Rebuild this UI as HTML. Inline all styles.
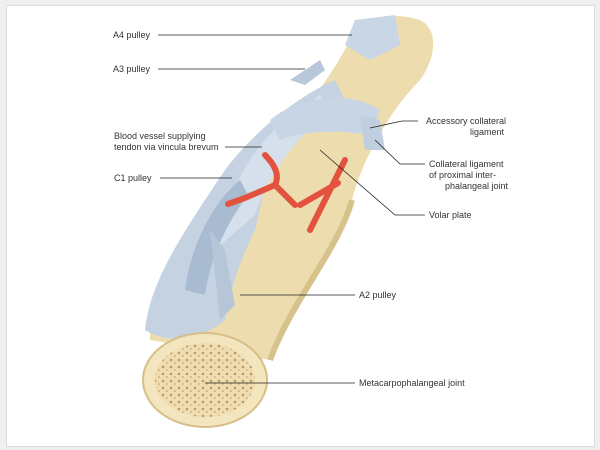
<!DOCTYPE html>
<html><head><meta charset="utf-8"><style>
html,body{margin:0;padding:0;background:#efefef;}
.f{position:absolute;left:6px;top:5px;width:587px;height:440px;background:#fff;border:1px solid #dcdcdc;}
svg{position:absolute;left:0;top:0}
text{font-family:"Liberation Sans",sans-serif;font-size:9px;fill:#333}
</style></head><body>
<div class="f"></div>
<svg width="600" height="450" viewBox="0 0 600 450">
<defs>
<pattern id="dots" width="8" height="7" patternUnits="userSpaceOnUse">
<rect width="8" height="7" fill="#efdcb0"/><circle cx="3" cy="3" r="1.3" fill="#b89a62"/><circle cx="7" cy="6" r="0.9" fill="#c7aa72"/></pattern>
</defs>
<path d="M150,330 C170,280 210,230 250,180 C290,130 330,80 350,40 C360,20 390,10 420,20 C440,30 435,60 420,80 C390,110 362,160 352,200 C338,250 292,300 270,360 L150,340 Z" fill="#ecdcae"/>
<path d="M352,200 C338,250 292,300 270,360" stroke="#d8c28c" stroke-width="6" fill="none"/>
<path d="M145,330 C150,280 185,230 225,170 C255,130 300,95 335,80 L345,100 C310,115 285,140 270,165 L255,230 C240,260 230,290 225,320 C200,340 170,345 145,330 Z" fill="#c5d2e2"/>
<path d="M215,250 C225,200 250,140 300,110 L320,95 L330,110 C300,135 270,170 255,215 Z" fill="#d6e0ec"/>
<path d="M270,120 C300,95 350,90 380,110 L370,135 C340,130 305,130 280,140 Z" fill="#c8d5e4"/>
<path d="M345,45 L355,20 L395,15 L400,45 L370,60 Z" fill="#c9d6e5"/>
<path d="M290,80 L320,60 L325,70 L305,85 Z" fill="#b8c8da"/>
<path d="M185,290 C190,250 210,205 240,180 L248,195 C225,225 210,260 205,295 Z" fill="#a9bbd0"/>
<path d="M210,230 L225,250 L235,305 L220,320 Z" fill="#b6c6d9"/>
<path d="M360,115 L380,120 L385,150 L365,150 Z" fill="#c0cfe0"/>
<path d="M265,155 C275,165 280,175 275,185 L245,198 L228,204 M275,185 L295,205" stroke="#e2523e" stroke-width="6" fill="none" stroke-linecap="round"/>
<path d="M345,160 L310,230 M300,205 L338,183" stroke="#e2523e" stroke-width="6" fill="none" stroke-linecap="round"/>
<ellipse cx="205" cy="380" rx="62" ry="47" fill="#f3e5bd" stroke="#d6bf89" stroke-width="2"/>
<ellipse cx="205" cy="380" rx="50" ry="37" fill="url(#dots)"/>
<g stroke="#222" stroke-width="0.8" fill="none">
<path d="M158,35 H352"/><path d="M158,69 H305"/>
<path d="M225,147 H262"/><path d="M160,178 H232"/>
<path d="M418,121 H402 L370,128"/><path d="M425,164 H400 L375,140"/>
<path d="M425,215 H395 L320,150"/><path d="M355,295 H240"/>
<path d="M355,383 H205"/>
</g>
<text x="113" y="38">A4 pulley</text>
<text x="113" y="72">A3 pulley</text>
<text x="114" y="139">Blood vessel supplying</text>
<text x="114" y="150">tendon via vincula brevum</text>
<text x="114" y="181">C1 pulley</text>
<text x="426" y="124">Accessory collateral</text>
<text x="470" y="135">ligament</text>
<text x="429" y="167">Collateral ligament</text>
<text x="429" y="178">of proximal inter-</text>
<text x="445" y="189">phalangeal joint</text>
<text x="429" y="218">Volar plate</text>
<text x="359" y="298">A2 pulley</text>
<text x="359" y="386">Metacarpophalangeal joint</text>
</svg>
</body></html>
